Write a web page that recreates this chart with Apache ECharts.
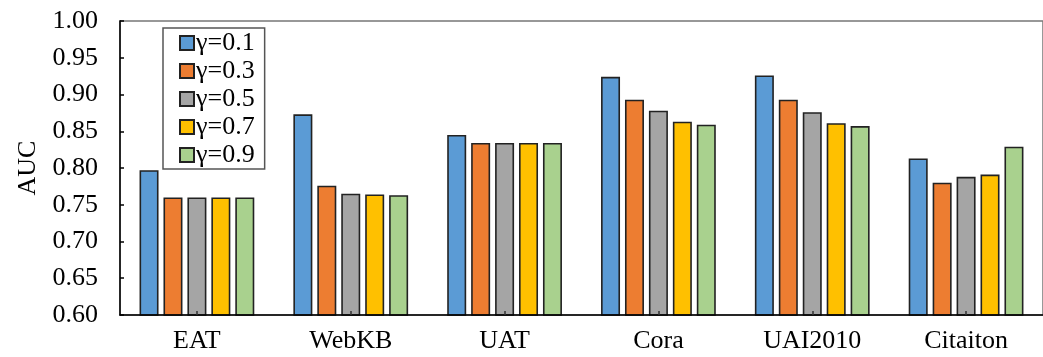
<!DOCTYPE html>
<html>
<head>
<meta charset="utf-8">
<script src="https://cdn.jsdelivr.net/npm/echarts@6/dist/echarts.min.js"></script>
<style>
html,body{margin:0;padding:0;background:#fff;}
#chart{width:1043px;height:357px;}
</style>
</head>
<body>
<div id="chart"></div>
<script>
const categories = ['EAT', 'WebKB', 'UAT', 'Cora', 'UAI2010', 'Citaiton'];
const seriesNames = ['γ=0.1', 'γ=0.3', 'γ=0.5', 'γ=0.7', 'γ=0.9'];
const g01 = [0.797, 0.873, 0.845, 0.924, 0.926, 0.813];
const g03 = [0.760, 0.776, 0.834, 0.893, 0.893, 0.780];
const g05 = [0.760, 0.765, 0.834, 0.878, 0.876, 0.788];
const g07 = [0.760, 0.764, 0.834, 0.863, 0.861, 0.791];
const g09 = [0.760, 0.763, 0.834, 0.859, 0.857, 0.829];
const yTicks = [0.60, 0.65, 0.70, 0.75, 0.80, 0.85, 0.90, 0.95, 1.00];

const colors = ['#5B9BD5', '#ED7D31', '#A5A5A5', '#FFC000', '#A9D18E'];
const values = [g01, g03, g05, g07, g09];
const font = "'Liberation Serif','Times New Roman',serif";

const chart = echarts.init(document.getElementById('chart'), null, {renderer: 'canvas'});
chart.setOption({
  animation: false,
  backgroundColor: '#fff',
  grid: {left: 120, top: 21, right: -15, bottom: 42, show: true, borderColor: '#777', borderWidth: 1.5, backgroundColor: 'transparent'},
  legend: {
    data: seriesNames,
    orient: 'vertical',
    left: 163, top: 28,
    padding: [2, 10, 1, 16],
    itemWidth: 14, itemHeight: 14, itemGap: 2,
    borderColor: '#555', borderWidth: 1.5,
    icon: 'rect',
    textStyle: {fontFamily: font, fontSize: 26, color: '#000', padding: [0, 0, 0, -3]}
  },
  xAxis: {
    type: 'category',
    data: categories,
    z: 5,
    axisLine: {lineStyle: {color: '#000', width: 1.5}},
    axisTick: {show: true, inside: true, alignWithLabel: true, length: 4, lineStyle: {color: '#333', width: 1.5}},
    axisLabel: {fontFamily: font, fontSize: 26, color: '#000', margin: 13}
  },
  yAxis: {
    type: 'value',
    min: yTicks[0], max: yTicks[yTicks.length - 1], interval: 0.05,
    name: 'AUC', nameLocation: 'middle', nameGap: 77,
    nameTextStyle: {fontFamily: font, fontSize: 26, color: '#000'},
    axisLine: {show: true, lineStyle: {color: '#000', width: 1.5}},
    axisTick: {show: true, inside: true, length: 4, lineStyle: {color: '#000', width: 1.5}},
    splitLine: {show: false},
    axisLabel: {fontFamily: font, fontSize: 26, color: '#000', margin: 22, formatter: v => v.toFixed(2)}
  },
  series: seriesNames.map((n, i) => ({
    name: n,
    type: 'bar',
    data: values[i],
    barWidth: 19,
    barGap: '26%',
    itemStyle: {color: colors[i], borderColor: '#222', borderWidth: 1.6}
  }))
});
</script>
</body>
</html>
